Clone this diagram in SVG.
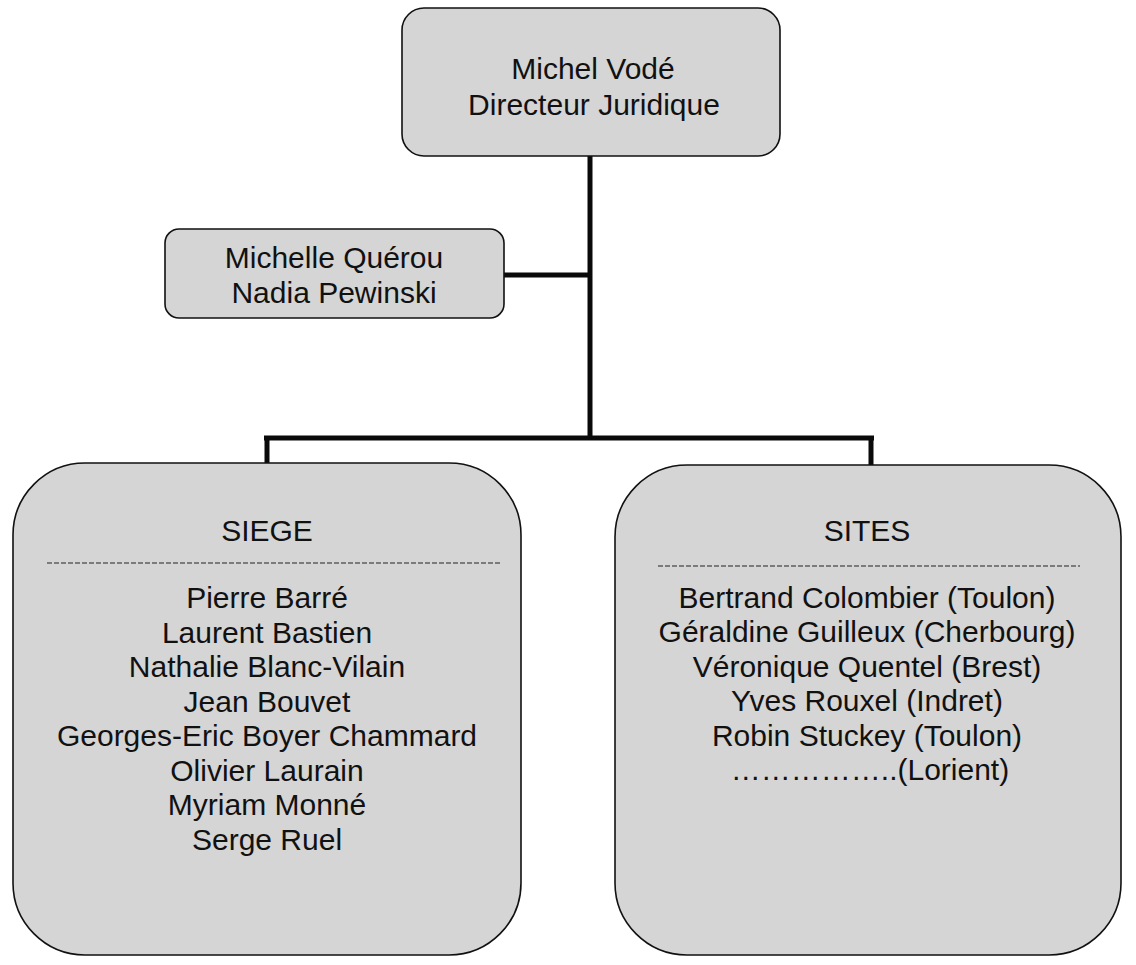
<svg xmlns="http://www.w3.org/2000/svg" width="1136" height="965" viewBox="0 0 1136 965">
<style>
.box{fill:#d5d5d5;stroke:#111;stroke-width:1.6}
.t{font-family:"Liberation Sans",Arial,sans-serif;font-size:30px;fill:#111;text-anchor:middle}
.c{stroke:#0a0a0a;stroke-width:5;fill:none}
.d{stroke:#222;stroke-width:1.2;stroke-dasharray:5,2;fill:none}
</style>
<rect width="1136" height="965" fill="#fff"/>
<g id="connectors">
<path class="c" d="M590 156 V438"/>
<path class="c" d="M504 275 H590"/>
<path class="c" d="M264 438 H874"/>
<path class="c" d="M267 436 V463"/>
<path class="c" d="M871 436 V465"/>
</g>
<g id="director">
<rect class="box" x="402" y="8" width="378" height="148" rx="22"/>
<text class="t" x="593" y="79">Michel Vodé</text>
<text class="t" x="594" y="115">Directeur Juridique</text>
</g>
<g id="assistants">
<rect class="box" x="165" y="229" width="339" height="89" rx="14"/>
<text class="t" x="334" y="268">Michelle Quérou</text>
<text class="t" x="334" y="303">Nadia Pewinski</text>
</g>
<g id="siege">
<rect class="box" x="13" y="463" width="508" height="492" rx="72"/>
<text class="t" x="267" y="541">SIEGE</text>
<path class="d" d="M47 563 H502"/>
<text class="t" x="267" y="608">Pierre Barré</text>
<text class="t" x="267" y="643">Laurent Bastien</text>
<text class="t" x="267" y="677">Nathalie Blanc-Vilain</text>
<text class="t" x="267" y="712">Jean Bouvet</text>
<text class="t" x="267" y="746">Georges-Eric Boyer Chammard</text>
<text class="t" x="267" y="781">Olivier Laurain</text>
<text class="t" x="267" y="815">Myriam Monné</text>
<text class="t" x="267" y="850">Serge Ruel</text>
</g>
<g id="sites">
<rect class="box" x="615" y="465" width="506" height="490" rx="72"/>
<text class="t" x="867" y="541">SITES</text>
<path class="d" d="M658 566 H1080"/>
<text class="t" x="867" y="608">Bertrand Colombier (Toulon)</text>
<text class="t" x="867" y="642">Géraldine Guilleux (Cherbourg)</text>
<text class="t" x="867" y="677">Véronique Quentel (Brest)</text>
<text class="t" x="867" y="711">Yves Rouxel (Indret)</text>
<text class="t" x="867" y="746">Robin Stuckey (Toulon)</text>
<text class="t" x="870" y="780">……………..(Lorient)</text>
</g>
</svg>
